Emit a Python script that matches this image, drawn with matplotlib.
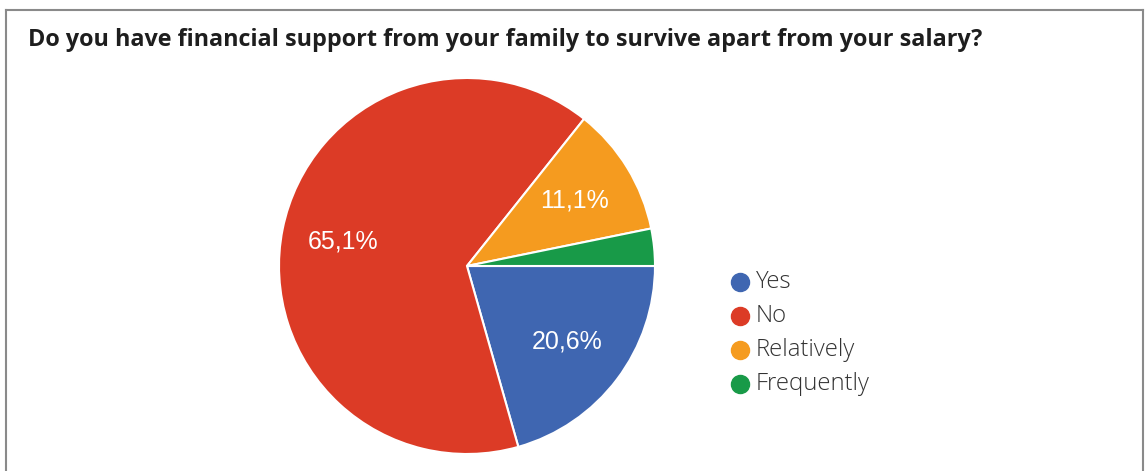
import matplotlib
matplotlib.use("Agg")
import matplotlib.pyplot as plt
from matplotlib.lines import Line2D

title = "Do you have financial support from your family to survive apart from your salary?"
categories = ["Yes", "No", "Relatively", "Frequently"]
shares = [20.6, 65.1, 11.1, 3.2]
colors = ["#3F66B1", "#DC3B26", "#F59B1F", "#189A48"]

W, H = 1146, 471
fig = plt.figure(figsize=(W / 100, H / 100), dpi=100)
fig.patch.set_facecolor("white")

# grey frame (open at the bottom)
frame_col = "#8a8a8a"
fig.add_artist(Line2D([6 / W, 6 / W], [0, 1 - 10 / H], transform=fig.transFigure, color=frame_col, lw=1.5))
fig.add_artist(Line2D([6 / W, 1143 / W], [1 - 10 / H, 1 - 10 / H], transform=fig.transFigure, color=frame_col, lw=1.5))
fig.add_artist(Line2D([1143 / W, 1143 / W], [0, 1 - 10 / H], transform=fig.transFigure, color=frame_col, lw=1.5))

fig.text(28 / W, 1 - 46 / H, title, fontsize=16.85, fontweight="bold", family="Open Sans",
         color="#1e1e1e", va="baseline", ha="left")

# pie axes: centre (467, 266), radius 188 px
cx, cy, r = 467, 266, 188
ax = fig.add_axes([(cx - r) / W, (H - cy - r) / H, 2 * r / W, 2 * r / H])


def pct_label(p):
    return f"{p:.1f}%".replace(".", ",") if p > 5 else ""


wedges, texts, autotexts = ax.pie(
    shares, colors=colors, startangle=0, counterclock=False,
    autopct=pct_label, pctdistance=0.67,
    wedgeprops=dict(edgecolor="white", linewidth=1.5),
    textprops=dict(color="white", fontsize=18, family="Liberation Sans"),
)
ax.set_xlim(-1, 1)
ax.set_ylim(-1, 1)
ax.set_aspect("equal")
ax.axis("off")

# legend
lx, ly0, dy = 740, 282, 34
for i, (cat, col) in enumerate(zip(categories, colors)):
    y = 1 - (ly0 + i * dy) / H
    fig.add_artist(Line2D([lx / W], [y], transform=fig.transFigure, marker="o",
                          markersize=13, color=col, linestyle="none"))
    fig.text(756 / W, y, cat, fontsize=17.2, family="Open Sans", fontweight="light",
             color="#333333", va="center", ha="left")

fig.savefig("out.png", dpi=100)
